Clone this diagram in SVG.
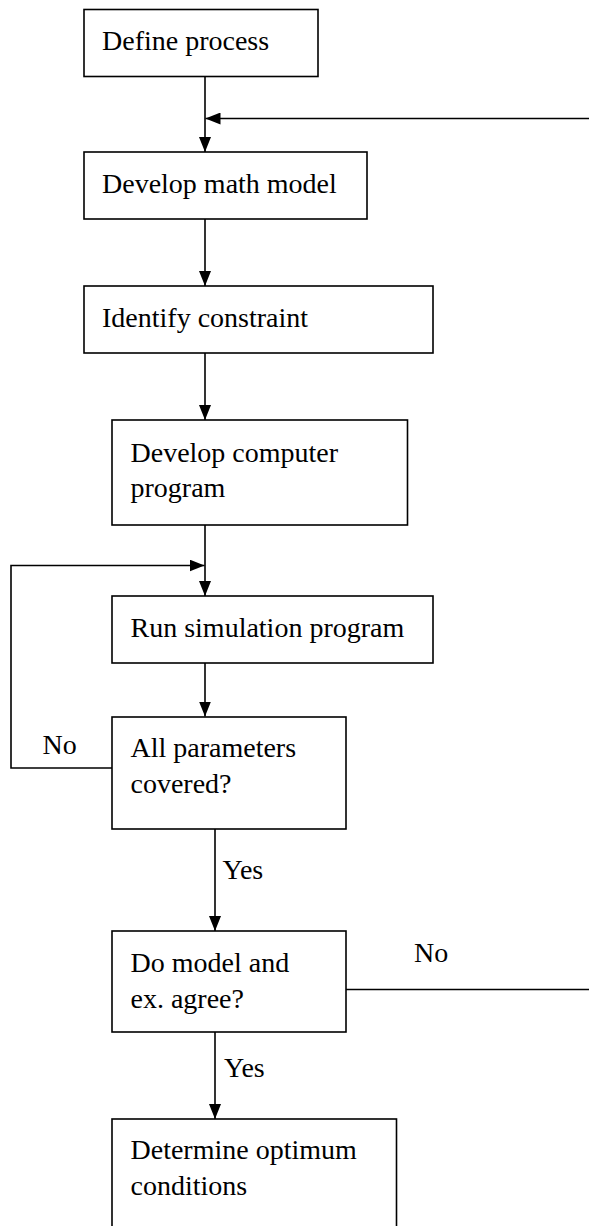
<svg xmlns="http://www.w3.org/2000/svg" width="589" height="1226" viewBox="0 0 589 1226">
<style>
.box{fill:#fff;stroke:#000;stroke-width:1.6}
.t{font-family:'Liberation Serif','Times New Roman',Tinos,'DejaVu Serif',serif;font-size:28px;fill:#000}
.c{fill:none;stroke:#000;stroke-width:1.6}
</style>
<defs>
<marker id="ahs" markerWidth="15" markerHeight="12" viewBox="0 0 15 12" refX="15" refY="6" orient="auto" markerUnits="userSpaceOnUse">
<path d="M0,0 L15,6 L0,12 Z" fill="#000"/>
</marker>
</defs>
<rect width="589" height="1226" fill="#fff"/>
<g id="connectors">
<line class="c" x1="205" y1="77" x2="205" y2="152" marker-end="url(#ahs)"/>
<line class="c" x1="589" y1="118.5" x2="205.5" y2="118.5" marker-end="url(#ahs)"/>
<line class="c" x1="205" y1="219" x2="205" y2="286" marker-end="url(#ahs)"/>
<line class="c" x1="205" y1="353" x2="205" y2="420" marker-end="url(#ahs)"/>
<line class="c" x1="205" y1="525" x2="205" y2="596" marker-end="url(#ahs)"/>
<polyline class="c" points="112,768 11,768 11,565.5 204.5,565.5" marker-end="url(#ahs)"/>
<line class="c" x1="205" y1="663" x2="205" y2="716.5" marker-end="url(#ahs)"/>
<line class="c" x1="215" y1="829" x2="215" y2="931" marker-end="url(#ahs)"/>
<line class="c" x1="346" y1="989.5" x2="589" y2="989.5"/>
<line class="c" x1="215" y1="1032" x2="215" y2="1119" marker-end="url(#ahs)"/>
<text class="t" x="42.5" y="754">No</text>
<text class="t" x="222.5" y="879">Yes</text>
<text class="t" x="414" y="961.5">No</text>
<text class="t" x="224" y="1076.5">Yes</text>
</g>
<g id="n1"><rect class="box" x="84" y="9.5" width="234" height="67"/><text class="t" x="102" y="50">Define process</text></g>
<g id="n2"><rect class="box" x="84" y="152" width="283" height="67"/><text class="t" x="102" y="192.5">Develop math model</text></g>
<g id="n3"><rect class="box" x="84" y="286" width="349" height="67"/><text class="t" x="102" y="326.5">Identify constraint</text></g>
<g id="n4"><rect class="box" x="112" y="420" width="295.5" height="105"/><text class="t" x="130.5" y="461.5">Develop computer</text><text class="t" x="130.5" y="496.5">program</text></g>
<g id="n5"><rect class="box" x="112" y="596" width="321" height="67"/><text class="t" x="130.5" y="636.5">Run simulation program</text></g>
<g id="n6"><rect class="box" x="112" y="717" width="234" height="112"/><text class="t" x="130.5" y="757">All parameters</text><text class="t" x="130.5" y="792.5">covered?</text></g>
<g id="n7"><rect class="box" x="112" y="931" width="234" height="101"/><text class="t" x="130.5" y="971.5">Do model and</text><text class="t" x="130.5" y="1008">ex. agree?</text></g>
<g id="n8"><rect class="box" x="112" y="1119" width="284.5" height="130"/><text class="t" x="130.5" y="1159">Determine optimum</text><text class="t" x="130.5" y="1195">conditions</text></g>
</svg>
